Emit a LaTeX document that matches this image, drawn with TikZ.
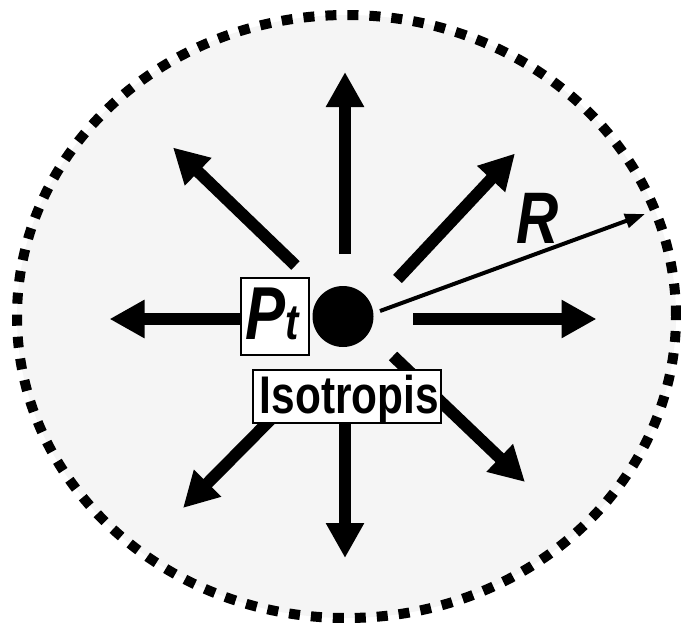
\documentclass[tikz,border=0pt]{standalone}
\usepackage{fontspec}
\setmainfont{Liberation Sans}
\newfontfamily\condfont[FakeStretch=0.8]{Liberation Sans}
\usetikzlibrary{arrows.meta}
\begin{document}
\begin{tikzpicture}[x=1pt,y=-1pt,
  ray/.style={line width=12pt, -{Triangle[length=35pt,width=36pt]}},
  thinray/.style={line width=4pt, -{Triangle[length=20pt,width=14pt]}},
  lblbox/.style={draw, line width=1.6pt, fill=white, inner sep=0pt},
  txt/.style={inner sep=0pt, anchor=base}]
\useasboundingbox (0,0) rectangle (681,625);
\fill[black!4] (346.5,316.5) ellipse [x radius=329.5pt, y radius=301.5pt];
\draw[line width=10pt, dash pattern=on 11pt off 11pt] (346.5,316.5) ellipse [x radius=329.5pt, y radius=301.5pt];
% ray end points
\coordinate (uS) at (345,254);   \coordinate (uE) at (345,72);
\coordinate (dS) at (345,424);   \coordinate (dE) at (345,558);
\coordinate (lS) at (250,319);   \coordinate (lE) at (109.5,319);
\coordinate (rS) at (413,319);   \coordinate (rE) at (596.5,319);
\coordinate (ulS) at (295.5,265.5); \coordinate (ulE) at (173,147.5);
\coordinate (urS) at (397.5,279);   \coordinate (urE) at (515,153.5);
\coordinate (drS) at (393,356);     \coordinate (drE) at (525,482);
\coordinate (dlS) at (280,410);     \coordinate (dlE) at (183,508);
\coordinate (Rs) at (380,311);      \coordinate (Re) at (645,214);
\draw[ray] (uS) -- (uE);
\draw[ray] (dS) -- (dE);
\draw[ray] (lS) -- (lE);
\draw[ray] (rS) -- (rE);
\draw[ray] (ulS) -- (ulE);
\draw[ray] (urS) -- (urE);
\draw[ray] (drS) -- (drE);
\draw[ray] (dlS) -- (dlE);
\draw[thinray] (Rs) -- (Re);
\node[circle, fill=black, minimum size=61pt, inner sep=0pt] (src) at (343,316.5) {};
\node[lblbox, minimum width=68pt, minimum height=77pt] (ptbox) at (275,316.5) {};
\node[txt] (pt) at (272,339) {\condfont\bfseries\fontsize{75}{75}\selectfont\itshape P\fontsize{50}{50}\selectfont t};
\node[lblbox, minimum width=188pt, minimum height=53pt] (isobox) at (347,396.5) {};
\node[txt] (iso) at (349.5,413) {\condfont\bfseries\fontsize{53}{53}\selectfont Isotropis};
\node[txt] (R) at (538,243) {\condfont\bfseries\fontsize{73}{73}\selectfont\itshape R};
\end{tikzpicture}
\end{document}
